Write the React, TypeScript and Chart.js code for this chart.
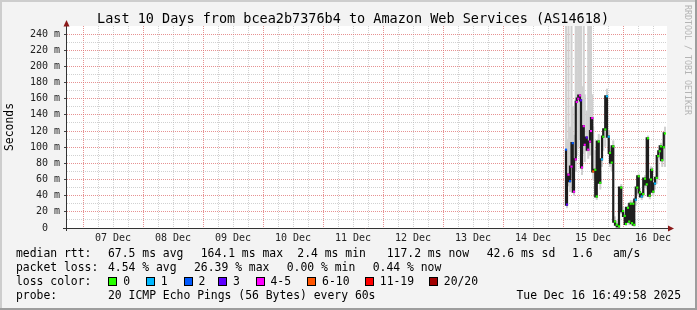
import React, { useEffect, useRef } from 'react';
import { Chart, registerables } from 'chart.js';

Chart.register(...registerables);

const TITLE = 'Last 10 Days from bcea2b7376b4 to Amazon Web Services (AS14618)';
const Y_AXIS_TITLE = 'Seconds';
const WATERMARK = 'RRDTOOL / TOBI OETIKER';

// sample times, in hours since 07 Dec 00:00
const SAMPLE_HOURS = [
  193.2, 193.6, 194.2, 194.8, 195.4, 195.9, 196.4, 197.1, 197.5, 198.1,
  198.8, 199.2, 199.6, 200.3, 200.7, 201.5, 202.1, 202.8, 203.2, 203.7,
  204.1, 204.9, 205.5, 206.3, 206.9, 207.6, 208.1, 208.9, 209.6, 210.3,
  210.8, 211.5, 212.1, 212.8, 213.5, 214.4, 215.3, 216.0, 216.7, 217.2,
  218.0, 218.5, 219.1, 219.6, 220.1, 220.5, 221.1, 221.7, 222.3, 222.8,
  223.5, 224.1, 224.8, 225.5, 226.0, 226.7, 227.2, 227.6, 228.1, 228.8,
  229.5, 230.1, 230.7, 231.2, 231.7, 232.3, 232.8,
];
// median rtt, ms
const MEDIAN_MS = [
  97, 29, 66, 58, 76, 105, 45, 85, 156, 160,
  164, 158, 75, 126, 103, 112, 97, 107, 120, 136,
  70, 72, 39, 107, 56, 85, 113, 122, 163, 113,
  93, 81, 101, 8, 4, 2, 50, 21, 15, 5,
  25, 8, 30, 6, 30, 4, 35, 50, 64, 44,
  39, 42, 61, 54, 111, 40, 60, 72, 45, 55,
  62, 89, 95, 101, 84, 100, 117,
];
// loss class index per sample (0 = no loss ... 7 = 20/20)
const LOSS_CLASS = [
  2, 3, 4, 2, 4, 2, 4, 4, 4, 4,
  4, 3, 4, 4, 4, 3, 4, 4, 4, 4,
  5, 0, 0, 0, 0, 1, 0, 0, 1, 1,
  0, 0, 0, 0, 0, 0, 0, 0, 0, 0,
  0, 0, 0, 0, 0, 0, 1, 0, 0, 0,
  1, 0, 0, 0, 0, 0, 0, 0, 0, 1,
  0, 0, 0, 0, 0, 0, 0,
];
// smoke (ping spread) per sample, ms
const SMOKE_MIN_MS = [
  85, 25, 52, 45, 62, 62, 40, 70, 90, 100,
  110, 82, 66, 92, 82, 95, 86, 90, 96, 90,
  60, 62, 35, 56, 48, 76, 96, 101, 121, 96,
  76, 71, 90, 5, 2, 1, 18, 14, 8, 3,
  10, 4, 12, 3, 10, 2, 28, 40, 50, 40,
  35, 38, 50, 48, 42, 36, 52, 56, 40, 48,
  55, 60, 85, 92, 76, 85, 76,
];
const SMOKE_MAX_MS = [
  300, 110, 300, 125, 300, 150, 115, 300, 300, 300,
  300, 300, 175, 300, 165, 145, 300, 300, 300, 165,
  125, 96, 56, 116, 70, 96, 121, 131, 172, 121,
  100, 90, 108, 14, 9, 6, 54, 26, 20, 10,
  29, 12, 34, 10, 34, 8, 38, 54, 67, 49,
  44, 48, 65, 58, 114, 45, 76, 75, 50, 60,
  68, 92, 99, 105, 90, 104, 125,
];

const DAY_LABELS = ['07 Dec', '08 Dec', '09 Dec', '10 Dec', '11 Dec', '12 Dec', '13 Dec', '14 Dec', '15 Dec', '16 Dec'];
const X_TICK_HOURS = [
  0, 6, 12, 18, 24, 30, 36, 42, 48, 54, 60, 66, 72, 78, 84, 90, 96, 102, 108, 114,
  120, 126, 132, 138, 144, 150, 156, 162, 168, 174, 180, 186, 192, 198, 204, 210, 216, 222, 228,
];
const Y_TICKS_MS = [0, 10, 20, 30, 40, 50, 60, 70, 80, 90, 100, 110, 120, 130, 140, 150, 160, 170, 180, 190, 200, 210, 220, 230, 240];
const X_MIN_H = -6.4;
const X_MAX_H = 233.6;
const Y_MAX_MS = 250;

const LOSS_LABELS = ['0', '1', '2', '3', '4-5', '6-10', '11-19', '20/20'];
const LOSS_COLORS = ['#26ff00', '#00b8ff', '#0059ff', '#5e00ff', '#ff00ff', '#ff5500', '#ff0000', '#a10000'];

const RTT_LABEL = 'median rtt:';
const RTT_STATS = ['67.5 ms avg', '164.1 ms max', '2.4 ms min', '117.2 ms now', '42.6 ms sd', '1.6', 'am/s'];
const LOSS_LABEL = 'packet loss:';
const LOSS_STATS = ['4.54 % avg', '26.39 % max', '0.00 % min', '0.44 % now'];
const COLOR_LABEL = 'loss color:';
const PROBE_LABEL = 'probe:';
const PROBE_TEXT = '20 ICMP Echo Pings (56 Bytes) every 60s';
const TIMESTAMP = 'Tue Dec 16 16:49:58 2025';

const W = 697;
const H = 310;
const MONO = '"DejaVu Sans Mono", "Liberation Mono", monospace';
const MAJOR_GRID = 'rgba(222, 110, 110, 0.75)';
const MINOR_GRID = 'rgba(185, 185, 185, 0.65)';

const rrdPlugin = {
  id: 'rrdFrame',
  beforeDraw(chart: any) {
    const { ctx, chartArea: a } = chart;
    ctx.save();
    ctx.fillStyle = '#f3f3f3';
    ctx.fillRect(0, 0, W, H);
    ctx.fillStyle = '#cdcdcd';
    ctx.fillRect(0, 0, W, 2);
    ctx.fillRect(0, 0, 2, H);
    ctx.fillStyle = '#9d9d9d';
    ctx.fillRect(W - 2, 0, 2, H);
    ctx.fillRect(0, H - 2, W, 2);
    ctx.fillStyle = '#ffffff';
    ctx.fillRect(a.left, a.top, a.right - a.left, a.bottom - a.top);
    ctx.restore();
  },
  afterDraw(chart: any) {
    const { ctx, chartArea: a } = chart;
    ctx.save();
    // axes
    ctx.strokeStyle = '#333333';
    ctx.lineWidth = 1;
    ctx.beginPath();
    ctx.moveTo(a.left - 4, a.bottom + 0.5);
    ctx.lineTo(a.right + 1, a.bottom + 0.5);
    ctx.moveTo(a.left - 0.5, a.bottom + 3);
    ctx.lineTo(a.left - 0.5, a.top - 1);
    ctx.stroke();
    ctx.fillStyle = '#8b1a1a';
    ctx.beginPath();
    ctx.moveTo(a.left - 0.5, a.top - 6);
    ctx.lineTo(a.left - 3.5, a.top + 0.5);
    ctx.lineTo(a.left + 2.5, a.top + 0.5);
    ctx.closePath();
    ctx.fill();
    ctx.beginPath();
    ctx.moveTo(a.right + 7, a.bottom + 0.5);
    ctx.lineTo(a.right + 1, a.bottom - 2.5);
    ctx.lineTo(a.right + 1, a.bottom + 3.5);
    ctx.closePath();
    ctx.fill();

    // title
    ctx.fillStyle = '#000';
    ctx.textBaseline = 'middle';
    ctx.textAlign = 'left';
    ctx.font = `13.5px ${MONO}`;
    ctx.fillText(TITLE, 97, 19);

    // y axis title
    ctx.save();
    ctx.font = `11.4px ${MONO}`;
    ctx.translate(10.5, (a.top + a.bottom) / 2);
    ctx.rotate(-Math.PI / 2);
    ctx.textAlign = 'center';
    ctx.fillText(Y_AXIS_TITLE, 0, 0);
    ctx.restore();

    // watermark
    ctx.save();
    ctx.fillStyle = '#b4b4b4';
    ctx.font = `8.3px ${MONO}`;
    ctx.translate(687.5, 5);
    ctx.rotate(Math.PI / 2);
    ctx.textAlign = 'left';
    ctx.fillText(WATERMARK, 0, 0);
    ctx.restore();

    // legend
    ctx.font = `11.4px ${MONO}`;
    ctx.fillStyle = '#000';
    ctx.textAlign = 'left';
    const rows = [254, 268, 282, 296];
    const rttX = [108, 200.7, 297.3, 386.7, 486.7, 572, 613];
    const lossX = [108, 194, 286.7, 372.7];
    const boxX = [109.4, 147, 184.6, 219.3, 256.7, 308.3, 366, 430];
    ctx.fillText(RTT_LABEL, 16, rows[0]);
    RTT_STATS.forEach((t, i) => ctx.fillText(t, rttX[i], rows[0]));
    ctx.fillText(LOSS_LABEL, 16, rows[1]);
    LOSS_STATS.forEach((t, i) => ctx.fillText(t, lossX[i], rows[1]));
    ctx.fillText(COLOR_LABEL, 16, rows[2]);
    LOSS_LABELS.forEach((t, i) => {
      const bx = Math.round(boxX[i]);
      ctx.fillStyle = LOSS_COLORS[i];
      ctx.fillRect(bx, rows[2] - 4, 7, 7);
      ctx.strokeStyle = '#000';
      ctx.lineWidth = 1;
      ctx.strokeRect(bx - 0.5, rows[2] - 4.5, 8, 8);
      ctx.fillStyle = '#000';
      ctx.fillText(t, boxX[i] + 13.8, rows[2]);
    });
    ctx.fillText(PROBE_LABEL, 16, rows[3]);
    ctx.fillText(PROBE_TEXT, 108, rows[3]);
    ctx.textAlign = 'right';
    ctx.fillText(TIMESTAMP, 681, rows[3]);
    ctx.restore();
  },
};

export default function App() {
  const ref = useRef<HTMLCanvasElement | null>(null);

  useEffect(() => {
    const canvas = ref.current;
    if (!canvas) return;
    const chart = new Chart(canvas, {
      type: 'line',
      data: {
        datasets: [
          {
            type: 'bar',
            label: 'smoke',
            data: SAMPLE_HOURS.map((h, i) => ({ x: h, y: [SMOKE_MIN_MS[i], SMOKE_MAX_MS[i]] })) as any,
            backgroundColor: '#d0d0d0',
            borderWidth: 0,
            barThickness: 1.4,
            grouped: false,
            order: 2,
            clip: 0,
          } as any,
          {
            type: 'line',
            label: 'median rtt',
            data: SAMPLE_HOURS.map((h, i) => ({ x: h, y: MEDIAN_MS[i] })),
            borderColor: '#1e1e1e',
            borderWidth: 2.2,
            stepped: 'after',
            pointStyle: 'rect',
            pointRadius: 1.5,
            pointBorderWidth: 0,
            pointBackgroundColor: LOSS_CLASS.map((c) => LOSS_COLORS[c]),
            order: 1,
            clip: 0,
          } as any,
        ],
      },
      options: {
        animation: false,
        responsive: false,
        devicePixelRatio: 1,
        events: [],
        layout: { padding: { top: 26, right: 30, bottom: 0, left: 0 } },
        plugins: {
          legend: { display: false },
          tooltip: { enabled: false },
          title: { display: false },
        },
        scales: {
          x: {
            type: 'linear',
            min: X_MIN_H,
            max: X_MAX_H,
            offset: false,
            afterBuildTicks: (s: any) => {
              s.ticks = X_TICK_HOURS.map((v) => ({ value: v }));
            },
            afterFit: (s: any) => {
              s.height = 82;
            },
            ticks: {
              autoSkip: false,
              maxRotation: 0,
              minRotation: 0,
              padding: 4,
              color: '#222',
              font: { family: MONO, size: 10 },
              callback: (v: any) => (Number(v) % 24 === 12 ? DAY_LABELS[(Number(v) - 12) / 24] : ''),
            },
            grid: {
              offset: false,
              drawTicks: false,
              lineWidth: 1,
              color: (c: any) => (c.tick && c.tick.value % 24 === 0 ? MAJOR_GRID : MINOR_GRID),
            },
            border: { display: false, dash: [1, 1] },
          },
          y: {
            type: 'linear',
            min: 0,
            max: Y_MAX_MS,
            afterBuildTicks: (s: any) => {
              s.ticks = Y_TICKS_MS.map((v) => ({ value: v }));
            },
            afterFit: (s: any) => {
              s.width = 67;
            },
            ticks: {
              autoSkip: false,
              padding: 4,
              color: '#222',
              font: { family: MONO, size: 10 },
              callback: (v: any) => {
                const n = Number(v);
                if (n % 20 !== 0) return '';
                return n === 0 ? '0  ' : `${n} m`;
              },
            },
            grid: {
              drawTicks: true,
              tickLength: 3,
              lineWidth: 1,
              color: (c: any) => (c.tick && c.tick.value % 20 === 0 ? MAJOR_GRID : MINOR_GRID),
              tickColor: (c: any) => (c.tick && c.tick.value % 20 === 0 ? '#444' : 'rgba(0,0,0,0)'),
            },
            border: { display: false, dash: [1, 1] },
          },
        },
      } as any,
      plugins: [rrdPlugin],
    });
    return () => chart.destroy();
  }, []);

  return (
    <div style={{ position: 'absolute', left: 0, top: 0, width: W, height: H }}>
      <canvas ref={ref} width={W} height={H} style={{ display: 'block', width: W, height: H }} />
    </div>
  );
}
